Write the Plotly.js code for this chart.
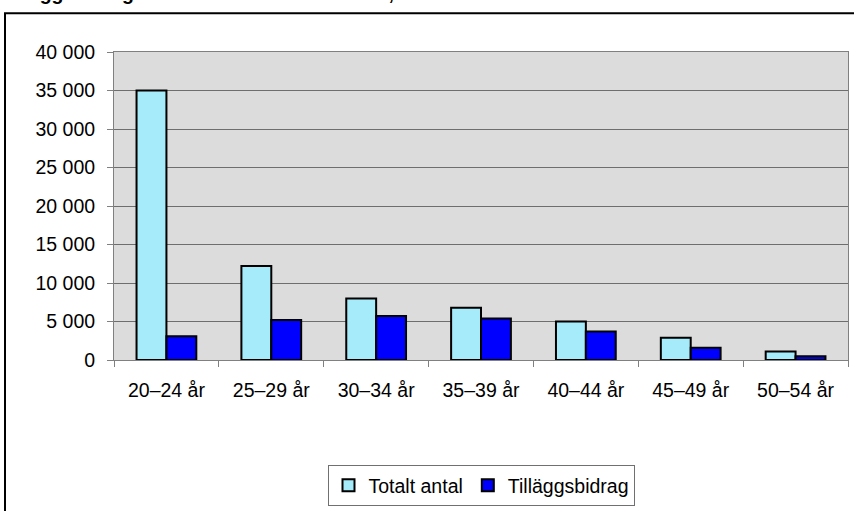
<!DOCTYPE html>
<html>
<head>
<meta charset="utf-8">
<script src="https://cdn.plot.ly/plotly-3.0.1.min.js"></script>
<style>html,body{margin:0;padding:0;background:#fff;}#chart{width:854px;height:511px;}</style>
</head>
<body>
<div id="chart"></div>
<script>
const categories = ["20–24 år", "25–29 år", "30–34 år", "35–39 år", "40–44 år", "45–49 år", "50–54 år"];
const totaltAntal = [35000, 12200, 8000, 6800, 5000, 2900, 1100];
const tillaggsbidrag = [3100, 5200, 5700, 5400, 3700, 1600, 500];
const seriesNames = ["Totalt antal", "Tilläggsbidrag"];
const titleText = "Tilläggsbidrag och totalt antal studerande, 2010";

const W = 854, H = 511;
const M = {l: 114, r: 6, t: 52, b: 150};
const pw = W - M.l - M.r, ph = H - M.t - M.b;
const px = x => (x - M.l) / pw;
const py = y => (H - M.b - y) / ph;

const font = "Arial, 'Liberation Sans', sans-serif";
const fs = 19.5;

const traces = [
  {type: "bar", name: seriesNames[0], x: categories, y: totaltAntal,
   marker: {color: "#A6EBFA", line: {color: "#000000", width: 2}}},
  {type: "bar", name: seriesNames[1], x: categories, y: tillaggsbidrag,
   marker: {color: "#0000FF", line: {color: "#000000", width: 2}}}
];

const layout = {
  width: W, height: H,
  margin: M,
  paper_bgcolor: "#ffffff",
  plot_bgcolor: "#DCDCDC",
  font: {family: font, size: fs, color: "#000000"},
  separators: ", ",
  barmode: "group",
  bargap: 0.43,
  bargroupgap: 0,
  showlegend: true,
  legend: {
    orientation: "h", x: 0.5, xanchor: "center", y: py(465), yanchor: "top",
    bgcolor: "#ffffff", bordercolor: "#707070", borderwidth: 1,
    font: {family: font, size: fs, color: "#000000"},
    itemwidth: 30, tracegroupgap: 0
  },
  xaxis: {
    type: "category", tickson: "boundaries", ticks: "outside", ticklen: 6,
    tickcolor: "#808080", showline: true, linecolor: "#808080", linewidth: 1,
    mirror: true, showgrid: false, ticklabelstandoff: 13,
    tickfont: {family: font, size: fs, color: "#000000"}
  },
  yaxis: {
    range: [0, 40000], dtick: 5000, tickformat: ",d",
    ticks: "outside", ticklen: 6, tickcolor: "#808080",
    showline: true, linecolor: "#808080", linewidth: 1, mirror: true,
    showgrid: true, gridcolor: "#6E6E6E", gridwidth: 1, zeroline: false,
    ticklabelstandoff: 8,
    tickfont: {family: font, size: fs, color: "#000000"}
  },
  shapes: [
    {type: "rect", xref: "paper", yref: "paper",
     x0: px(5), x1: px(W + 10), y0: py(H + 10), y1: py(13),
     line: {color: "#000000", width: 2}, fillcolor: "rgba(0,0,0,0)", layer: "above"}
  ],
  annotations: [
    {xref: "paper", yref: "paper", x: px(-1), y: py(6), xanchor: "left", yanchor: "bottom",
     text: "<b>" + titleText + "</b>", showarrow: false,
     font: {family: font, size: fs, color: "#000000"}}
  ]
};

Plotly.newPlot("chart", traces, layout, {displayModeBar: false, staticPlot: true});
</script>
</body>
</html>
